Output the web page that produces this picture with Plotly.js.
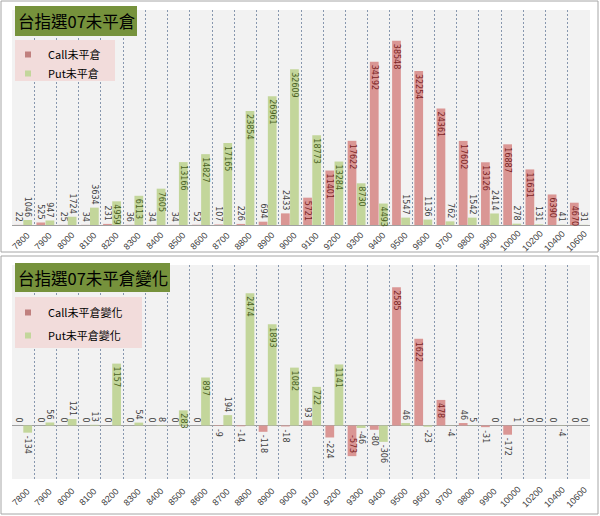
<!DOCTYPE html>
<html><head><meta charset="utf-8">
<script src="https://cdn.plot.ly/plotly-3.0.1.min.js"></script>
<style>html,body{margin:0;padding:0;background:#fff}#chart{width:600px;height:516px}</style>
</head><body><div id="chart"></div>
<script>
// ---- data ----
const strikes = ['7800','7900','8000','8100','8200','8300','8400','8500','8600','8700','8800','8900','9000','9100','9200','9300','9400','9500','9600','9700','9800','9900','10000','10200','10400','10600'];
const callOI = [22,525,25,34,231,36,34,34,52,107,226,694,2433,5721,11401,17622,34192,38548,32254,24361,17602,13126,16887,11631,6390,4670];
const putOI  = [1046,947,1724,3634,4959,6113,7605,13166,14827,17165,23854,26961,32609,18773,13284,8730,4493,1547,1136,762,1542,2414,278,131,41,31];
const callChg = [0,0,0,0,0,0,0,0,0,-9,-14,-118,-18,93,-224,-573,-80,2585,1622,478,46,-31,-172,0,0,0];
const putChg  = [-134,56,121,13,1157,54,8,283,897,194,2474,1893,1082,722,1141,-46,-306,46,-23,-4,5,0,1,0,-4,0];
const oiNames = ['Call未平倉','Put未平倉'];
const chgNames = ['Call未平倉變化','Put未平倉變化'];
const panelTitles = ['台指選07未平倉','台指選07未平倉變化'];

// ---- style ----
const W = 600, H = 516;
const X = p => p / W, Y = p => 1 - p / H;
const callColor = '#DA9694', putColor = '#C3D69B';
const callText = '#7B2424', putText = '#4A6224', outText = '#404040';
const cjk = '"Noto Sans CJK TC", "Noto Sans", sans-serif';
const numFont = '"DejaVu Sans", sans-serif';
const tickFont = {family: '"Liberation Sans", Arial, sans-serif', size: 9, color: '#404040'};

const panelTop = {y0: 10, y1: 225, range: [0, 45000], labelY: 241};
const panelBot = {y0: 265, y1: 479, range: [-1000, 3000], labelY: 497};

function positions(vals, panel) {
  const ppu = (panel.y1 - panel.y0) / (panel.range[1] - panel.range[0]);
  return vals.map(v => {
    const len = String(v).length * 4.6;
    return Math.abs(v) * ppu >= len ? 'inside' : 'outside';
  });
}

function barTrace(vals, name, color, tcol, xa, ya, panel) {
  return {
    type: 'bar', x: strikes, y: vals, name: name, xaxis: xa, yaxis: ya,
    marker: {color: color}, showlegend: false,
    text: vals.map(String), textposition: positions(vals, panel), textangle: 90,
    constraintext: 'none', cliponaxis: false,
    insidetextfont: {family: numFont, size: 8, color: tcol},
    outsidetextfont: {family: numFont, size: 8, color: outText},
    hoverinfo: 'x+y+name'
  };
}
function legendTrace(name, color, xa, ya, lg, grp) {
  return {type: 'scatter', mode: 'markers', x: [null], y: [null], name: name,
    xaxis: xa, yaxis: ya, legend: lg, legendgroup: grp,
    marker: {symbol: 'square', size: 6, color: color}, hoverinfo: 'skip'};
}

const data = [
  barTrace(callOI, oiNames[0], callColor, callText, 'x', 'y', panelTop),
  barTrace(putOI, oiNames[1], putColor, putText, 'x', 'y', panelTop),
  barTrace(callChg, chgNames[0], callColor, callText, 'x2', 'y2', panelBot),
  barTrace(putChg, chgNames[1], putColor, putText, 'x2', 'y2', panelBot),
  legendTrace(oiNames[0], '#C0807E', 'x', 'y', 'legend', 'a'),
  legendTrace(oiNames[1], putColor, 'x', 'y', 'legend', 'b'),
  legendTrace(chgNames[0], '#C0807E', 'x2', 'y2', 'legend2', 'c'),
  legendTrace(chgNames[1], putColor, 'x2', 'y2', 'legend2', 'd')
];

const xCommon = {
  type: 'category', domain: [X(12), X(590)], tickson: 'boundaries',
  range: [-0.5, strikes.length - 0.5], autorange: false,
  showgrid: true, gridcolor: '#8797AE', griddash: '2px,2px', gridwidth: 1,
  ticks: '', showticklabels: false, showline: false, zeroline: false, fixedrange: true
};
const yCommon = {showgrid: false, showticklabels: false, ticks: '', zeroline: true,
  zerolinecolor: '#A0A0A0', zerolinewidth: 1, showline: false, fixedrange: true};

const shapes = [
  {type: 'rect', xref: 'paper', yref: 'paper', x0: X(1), x1: X(598), y0: Y(252), y1: Y(1), line: {color: '#A6A6A6', width: 1}, layer: 'below'},
  {type: 'rect', xref: 'paper', yref: 'paper', x0: X(1), x1: X(598), y0: Y(514), y1: Y(256), line: {color: '#A6A6A6', width: 1}, layer: 'below'},
  {type: 'rect', xref: 'paper', yref: 'paper', x0: X(15), x1: X(137), y0: Y(36), y1: Y(6), fillcolor: '#76923C', line: {width: 0}, layer: 'above'},
  {type: 'rect', xref: 'paper', yref: 'paper', x0: X(15), x1: X(170), y0: Y(292), y1: Y(263), fillcolor: '#76923C', line: {width: 0}, layer: 'above'},
  {type: 'rect', xref: 'paper', yref: 'paper', x0: X(15), x1: X(115), y0: Y(81), y1: Y(40), fillcolor: '#F2DCDB', line: {width: 0}, layer: 'above'},
  {type: 'rect', xref: 'paper', yref: 'paper', x0: X(15), x1: X(142), y0: Y(348), y1: Y(297), fillcolor: '#F2DCDB', line: {width: 0}, layer: 'above'}
];

// rotated category labels, placed by category index on each x axis
function tickLabels(xref, panel) {
  return strikes.map((s, i) => ({xref: xref, yref: 'paper', x: i, y: Y(panel.labelY), text: s,
    textangle: -45, showarrow: false, xanchor: 'center', yanchor: 'middle', xshift: -2, font: tickFont}));
}

const annotations = [
  {xref: 'paper', yref: 'paper', x: X(76), y: Y(21), text: panelTitles[0], showarrow: false,
   xanchor: 'center', yanchor: 'middle', font: {family: cjk, size: 16.5, color: '#000'}},
  {xref: 'paper', yref: 'paper', x: X(92.5), y: Y(277.5), text: panelTitles[1], showarrow: false,
   xanchor: 'center', yanchor: 'middle', font: {family: cjk, size: 16.5, color: '#000'}}
].concat(tickLabels('x', panelTop), tickLabels('x2', panelBot));

const legendCommon = {xanchor: 'left', yanchor: 'top', bgcolor: 'rgba(0,0,0,0)', borderwidth: 0,
  font: {family: cjk, size: 11, color: '#000'}, itemclick: false, itemdoubleclick: false};

const layout = {
  width: W, height: H, margin: {l: 0, r: 0, t: 0, b: 0},
  paper_bgcolor: '#FFFFFF', plot_bgcolor: '#F2F2F2',
  barmode: 'group', bargap: 0.18, bargroupgap: 0.04,
  xaxis: Object.assign({}, xCommon, {anchor: 'y'}),
  yaxis: Object.assign({}, yCommon, {domain: [Y(panelTop.y1), Y(panelTop.y0)], range: panelTop.range, anchor: 'x'}),
  xaxis2: Object.assign({}, xCommon, {anchor: 'y2'}),
  yaxis2: Object.assign({}, yCommon, {domain: [Y(panelBot.y1), Y(panelBot.y0)], range: panelBot.range, anchor: 'x2'}),
  shapes: shapes, annotations: annotations,
  legend: Object.assign({}, legendCommon, {x: X(8), y: Y(40), tracegroupgap: 0}),
  legend2: Object.assign({}, legendCommon, {x: X(8), y: Y(298), tracegroupgap: 4}),
  showlegend: true
};

Plotly.newPlot('chart', data, layout, {displayModeBar: false, staticPlot: true});
</script>
</body></html>
